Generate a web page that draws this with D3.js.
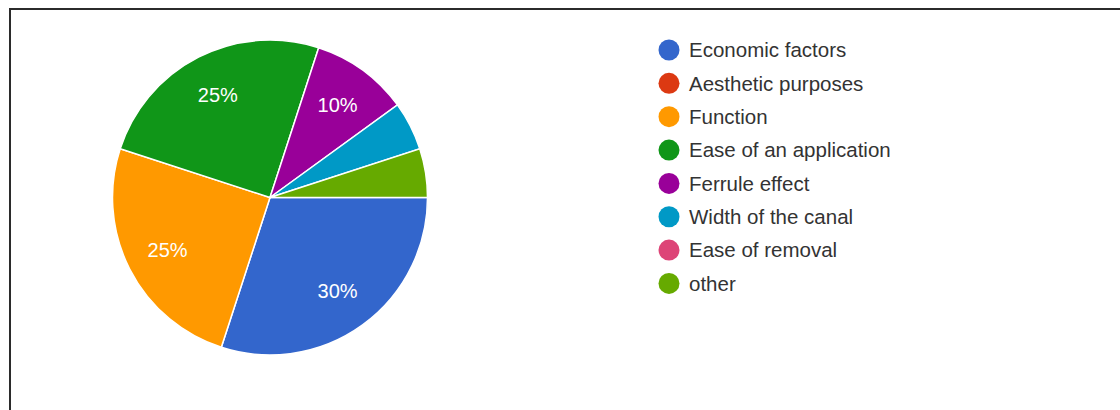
<!DOCTYPE html>
<html>
<head>
<meta charset="utf-8">
<script src="https://cdn.jsdelivr.net/npm/d3@7"></script>
<style>
  html, body { margin: 0; padding: 0; background: #fff; }
  svg { display: block; }
  text { font-family: "Liberation Sans", Arial, sans-serif; }
</style>
</head>
<body>
<svg id="chart" width="1120" height="410"></svg>
<script>
// Survey responses: reasons for choice
const categories = [
  "Economic factors",
  "Aesthetic purposes",
  "Function",
  "Ease of an application",
  "Ferrule effect",
  "Width of the canal",
  "Ease of removal",
  "other"
];
const values = [30, 0, 25, 25, 10, 5, 0, 5];
const colors = ["#3366cc", "#dc3912", "#ff9900", "#109618", "#990099", "#0099c6", "#dd4477", "#66aa00"];

const svg = d3.select("#chart");

// frame
svg.append("path")
  .attr("d", "M10,410 L10,9 L1120,9")
  .attr("fill", "none")
  .attr("stroke", "#2b2b2b")
  .attr("stroke-width", 2);

const cx = 270, cy = 197.5, radius = 157.5;
const total = d3.sum(values);

const pie = d3.pie()
  .value(d => d)
  .sort(null)
  .startAngle(Math.PI / 2)
  .endAngle(Math.PI / 2 + 2 * Math.PI);

const arcs = pie(values);
const arc = d3.arc().innerRadius(0).outerRadius(radius);
const labelArc = d3.arc().innerRadius(115).outerRadius(115);

const color = d3.scaleOrdinal().domain(categories).range(colors);

const g = svg.append("g").attr("transform", `translate(${cx},${cy})`);

g.selectAll("path.slice")
  .data(arcs)
  .join("path")
  .attr("class", "slice")
  .attr("d", arc)
  .attr("fill", (d, i) => color(categories[i]))
  .attr("stroke", "#fff")
  .attr("stroke-width", d => d.value > 0 ? 1.5 : 0);

// percentage labels for slices wide enough to hold them
g.selectAll("text.pct")
  .data(arcs.filter(d => d.value / total >= 0.1))
  .join("text")
  .attr("class", "pct")
  .attr("transform", d => `translate(${labelArc.centroid(d)})`)
  .attr("text-anchor", "middle")
  .attr("dy", "0.36em")
  .attr("fill", "#fff")
  .attr("font-size", 20)
  .text(d => Math.round(d.value / total * 100) + "%");

// legend
const legend = svg.append("g").attr("transform", "translate(669,50)");
const item = legend.selectAll("g")
  .data(categories)
  .join("g")
  .attr("transform", (d, i) => `translate(0,${i * 33.35})`);

item.append("circle")
  .attr("r", 10.5)
  .attr("fill", d => color(d));

item.append("text")
  .attr("x", 20)
  .attr("dy", "0.36em")
  .attr("font-size", 20.5)
  .attr("fill", "#333")
  .text(d => d);
</script>
</body>
</html>
